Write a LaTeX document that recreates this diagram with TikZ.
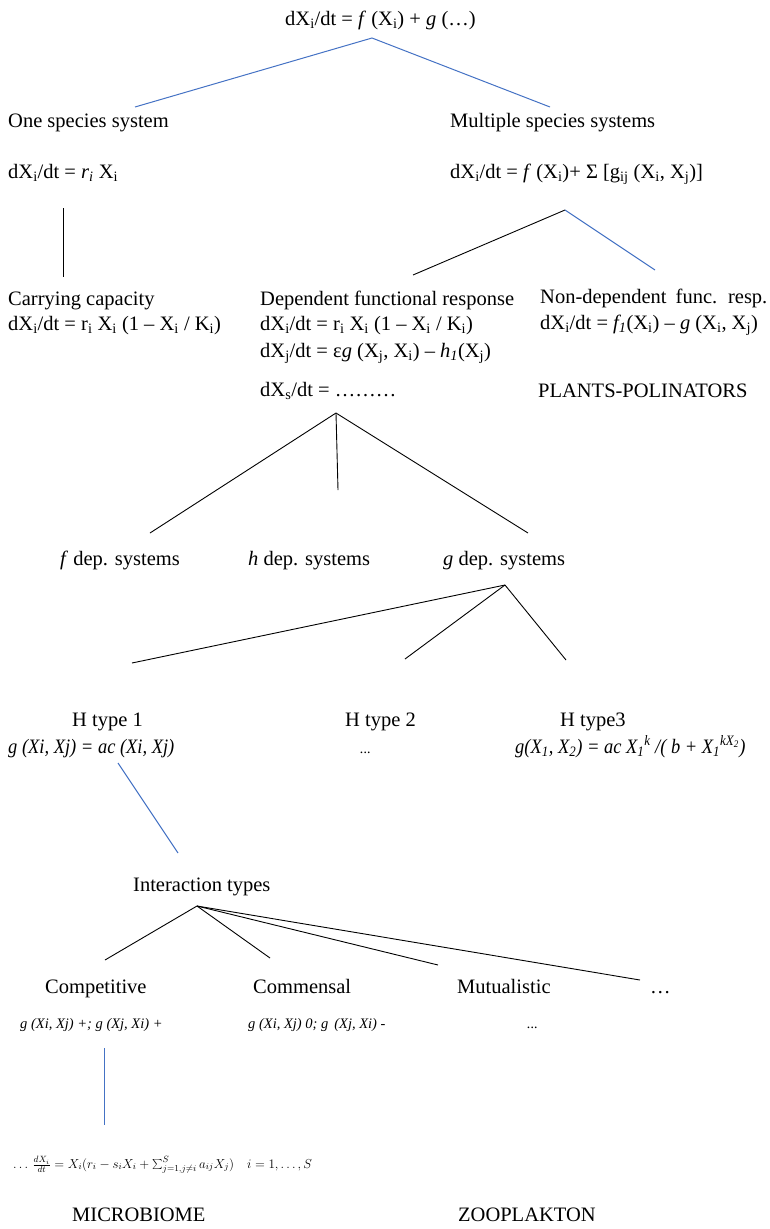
\RequirePackage{fix-cm}
\documentclass[tikz,border=0pt]{standalone}
\usepackage{fontspec}
\setmainfont{Liberation Serif}
\newfontfamily\condfont[FakeStretch=0.9]{Liberation Serif}
\newcommand\lo[1]{\textsubscript{#1}}
\newcommand\hi[1]{\textsuperscript{#1}}
\definecolor{blueline}{RGB}{68,114,196}
\begin{document}
\begin{tikzpicture}[x=1pt,y=-1pt,
  lbl/.style={anchor=base west,inner sep=0pt,font=\fontsize{20.5}{24}\selectfont},
  itl/.style={anchor=base west,inner sep=0pt,font=\condfont\fontsize{20.5}{24}\selectfont\itshape},
  sm/.style={anchor=base west,inner sep=0pt,font=\fontsize{14.5}{17}\selectfont\itshape},
  bl/.style={draw=black,line width=0.9pt},
  bu/.style={draw=blueline,line width=1pt}]
\useasboundingbox (0,0) rectangle (770,1229);
% texts
\node[lbl] (top) at (285,25) {dX\lo{i}/dt = \textit{f} (X\lo{i}) + \textit{g} (…)};
\node[lbl] (one) at (8,127) {One species system};
\node[lbl] (mult) at (450,127) {Multiple species systems};
\node[lbl] (oneeq) at (8,178) {dX\lo{i}/dt = \textit{r\lo{i}} X\lo{i}};
\node[lbl] (multeq) at (450,178) {dX\lo{i}/dt = \textit{f} (X\lo{i})+ Σ [g\lo{ij} (X\lo{i}, X\lo{j})]};
\node[lbl] (cc) at (8,305) {Carrying capacity};
\node[lbl] (cceq) at (8,330) {dX\lo{i}/dt = r\lo{i} X\lo{i} (1 – X\lo{i} / K\lo{i})};
\node[lbl] (dep) at (260,305) {Dependent functional response};
\node[lbl] (depeqa) at (260,330) {dX\lo{i}/dt = r\lo{i} X\lo{i} (1 – X\lo{i} / K\lo{i})};
\node[lbl] (depeqb) at (260,357) {dX\lo{j}/dt = ε\textit{g} (X\lo{j}, X\lo{i}) – \textit{h\lo{1}}(X\lo{j})};
\node[lbl] (depeqc) at (260,396) {dX\lo{s}/dt = ………};
\node[lbl] (nondep) at (540,303) {Non-dependent\hspace{4pt} func.\hspace{4pt} resp.};
\node[lbl] (nondepeq) at (540,329) {dX\lo{i}/dt = \textit{f\lo{1}}(X\lo{i}) – \textit{g} (X\lo{i}, X\lo{j})};
\node[lbl] (plants) at (538,397) {PLANTS-POLINATORS};
\node[lbl] (fdep) at (60,565) {\textit{f} dep. systems};
\node[lbl] (hdep) at (248,565) {\textit{h} dep. systems};
\node[lbl] (gdep) at (443,565) {\textit{g} dep. systems};
\node[lbl] (hta) at (72,726) {H type 1};
\node[lbl] (htb) at (345,726) {H type 2};
\node[lbl] (htc) at (560,726) {H type3};
\node[itl] (gfa) at (8,753) {g (Xi, Xj) = ac (Xi, Xj)};
\node[sm] (gfb) at (360,753) {...};
\node[itl] (gfc) at (515,753) {g(X\lo{1}, X\lo{2}) = ac X\lo{1}\hi{k} /( b + X\lo{1}\hi{kX\lo{2}})};
\node[lbl] (inter) at (133,891) {Interaction types};
\node[lbl] (comp) at (45,993) {Competitive};
\node[lbl] (comm) at (253,993) {Commensal};
\node[lbl] (mutu) at (457,993) {Mutualistic};
\node[lbl] (etc) at (650,993) {…};
\node[sm] (compg) at (20,1028) {g (Xi, Xj) +; g (Xj, Xi) +};
\node[sm] (commg) at (248,1028) {g (Xi, Xj) 0; g\, (Xj, Xi) -};
\node[sm] (mutug) at (527,1028) {...};
\node[anchor=base west,inner sep=0pt,font=\fontsize{13}{15}\selectfont] (eq) at (13,1168)
  {$\ldots\,\frac{dX_i}{dt}= X_i\bigl(r_i - s_iX_i + \sum_{j=1,j\neq i}^{S} a_{ij}X_j\bigr)\quad i = 1, \ldots , S$};
\node[lbl] (micro) at (72,1221) {MICROBIOME};
\node[lbl] (zoo) at (458,1221) {ZOOPLAKTON};
% connector ends
\coordinate (a0) at (372,38); \coordinate (a1) at (135,107); \coordinate (a2) at (550,107);
\coordinate (b0) at (63,208); \coordinate (b1) at (63,277);
\coordinate (c0) at (565,210); \coordinate (c1) at (413,275); \coordinate (c2) at (655,270);
\coordinate (d0) at (336,413); \coordinate (d1) at (150,533); \coordinate (d2) at (338,490); \coordinate (d3) at (528,533);
\coordinate (e0) at (505,585); \coordinate (e1) at (132,663); \coordinate (e2) at (405,659); \coordinate (e3) at (566,660);
\coordinate (f0) at (118,763); \coordinate (f1) at (178,853);
\coordinate (g0) at (197,906); \coordinate (g1) at (105,960); \coordinate (g2) at (270,958); \coordinate (g3) at (438,965); \coordinate (g4) at (640,980);
\coordinate (h0) at (104,1048); \coordinate (h1) at (104,1125);
% connectors
\draw[bu] (a1) -- (a0) -- (a2);
\draw[bl] (b0) -- (b1);
\draw[bl] (c0) -- (c1);
\draw[bu] (c0) -- (c2);
\draw[bl] (d0) -- (d1); \draw[bl] (d0) -- (d2); \draw[bl] (d0) -- (d3);
\draw[bl] (e0) -- (e1); \draw[bl] (e0) -- (e2); \draw[bl] (e0) -- (e3);
\draw[bu] (f0) -- (f1);
\draw[bl] (g0) -- (g1); \draw[bl] (g0) -- (g2); \draw[bl] (g0) -- (g3); \draw[bl] (g0) -- (g4);
\draw[bu] (h0) -- (h1);
\end{tikzpicture}
\end{document}
